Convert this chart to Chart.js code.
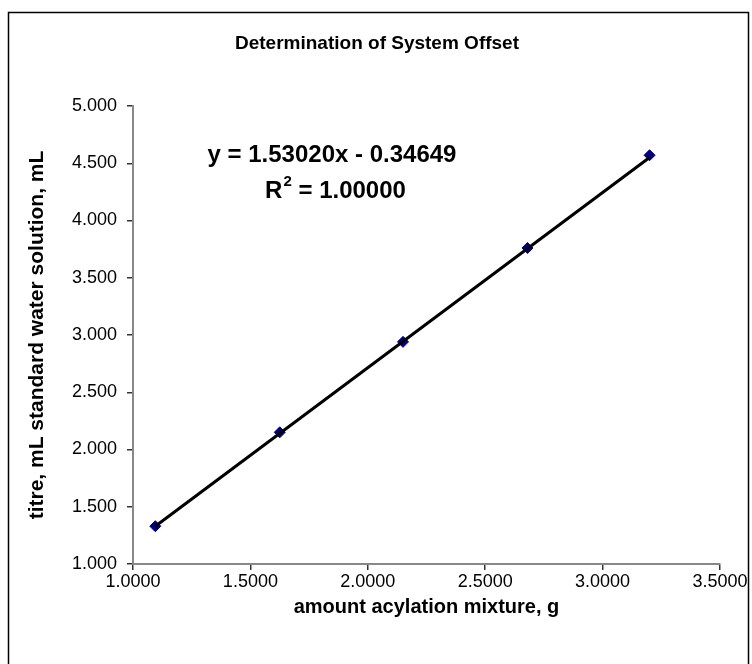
<!DOCTYPE html>
<html>
<head>
<meta charset="utf-8">
<script src="https://cdn.jsdelivr.net/npm/chart.js@4/dist/chart.umd.min.js"></script>
<style>
  html, body { margin: 0; padding: 0; background: #fff; }
  canvas { display: block; }
</style>
</head>
<body>
<canvas id="myChart" width="752" height="664"></canvas>
<script>
// values
const amountG = [1.095, 1.625, 2.15, 2.68, 3.20];
const titreML = [1.33, 2.15, 2.94, 3.76, 4.57];
const xTicks = [1.0, 1.5, 2.0, 2.5, 3.0, 3.5];
const yTicks = [1.0, 1.5, 2.0, 2.5, 3.0, 3.5, 4.0, 4.5, 5.0];
const slope = 1.53020;
const intercept = -0.34649;
const rSquared = '1.00000';

const chartTitle = 'Determination of System Offset';
const xTitle = 'amount acylation mixture, g';
const yTitle = 'titre, mL standard water solution, mL';
const equationText = 'y = 1.53020x - 0.34649';

const family = '"Liberation Sans", Arial, sans-serif';

const fit = x => slope * x + intercept;
const xFirst = Math.min(...amountG);
const xLast = Math.max(...amountG);

// border, title and trendline label
const chartDecor = {
  id: 'chartDecor',
  beforeDraw(chart) {
    const c = chart.ctx;
    c.save();
    c.fillStyle = '#fff';
    c.fillRect(0, 0, chart.width, chart.height);
    c.strokeStyle = '#000';
    c.lineWidth = 1.5;
    c.strokeRect(8.5, 12.5, 740, 680);
    c.restore();
  },
  afterDraw(chart) {
    const c = chart.ctx;
    c.save();
    c.fillStyle = '#000';
    c.textAlign = 'center';
    c.textBaseline = 'middle';
    c.font = 'bold 19px ' + family;
    c.fillText(chartTitle, 377, 44);

    c.font = 'bold 24px ' + family;
    c.fillText(equationText, 332, 155);

    const big = 'bold 24px ' + family;
    const small = 'bold 15px ' + family;
    const rest = ' = ' + rSquared;
    c.font = big;
    const wR = c.measureText('R').width;
    const wRest = c.measureText(rest).width;
    c.font = small;
    const w2 = c.measureText('2').width;
    let x = 335 - (wR + w2 + wRest) / 2;
    c.textAlign = 'left';
    c.font = big;
    c.fillText('R', x, 191);
    x += wR;
    c.font = small;
    c.fillText('2', x + 1, 182);
    x += w2 + 1;
    c.font = big;
    c.fillText(rest, x, 191);
    c.restore();
  }
};

const ctx = document.getElementById('myChart').getContext('2d');
const myChart = new Chart(ctx, {
  type: 'scatter',
  data: {
    datasets: [
      {
        label: 'trend',
        type: 'line',
        data: [{ x: xFirst, y: fit(xFirst) }, { x: xLast, y: fit(xLast) }],
        borderColor: '#000',
        borderWidth: 3,
        pointRadius: 0,
        fill: false
      },
      {
        label: 'titre',
        data: amountG.map((x, i) => ({ x: x, y: titreML[i] })),
        pointStyle: 'rectRot',
        pointRadius: 5.5,
        backgroundColor: '#000080',
        borderColor: '#000080',
        borderWidth: 1
      }
    ]
  },
  options: {
    responsive: false,
    animation: false,
    devicePixelRatio: 1,
    layout: { padding: { left: 10, right: 32, top: 106, bottom: 0 } },
    plugins: {
      legend: { display: false },
      tooltip: { enabled: false }
    },
    scales: {
      x: {
        type: 'linear',
        min: 1,
        max: 3.5,
        afterBuildTicks: s => { s.ticks = xTicks.map(v => ({ value: v })); },
        afterFit: s => { s.height = 100; },
        grid: { drawOnChartArea: false, tickLength: 6, color: '#333', lineWidth: 1.5 },
        border: { color: '#888', width: 2 },
        ticks: {
          callback: v => Number(v).toFixed(4),
          font: { size: 18, family: family },
          color: '#000',
          padding: 1,
          maxRotation: 0,
          autoSkip: false
        },
        title: {
          display: true,
          text: xTitle,
          font: { size: 20, weight: 'bold', family: family },
          color: '#000',
          padding: { top: 0, bottom: 45 }
        }
      },
      y: {
        type: 'linear',
        min: 1,
        max: 5,
        afterBuildTicks: s => { s.ticks = yTicks.map(v => ({ value: v })); },
        afterFit: s => { s.width = 123; },
        grid: { drawOnChartArea: false, tickLength: 6, color: '#333', lineWidth: 1.5 },
        border: { color: '#888', width: 2 },
        ticks: {
          callback: v => Number(v).toFixed(3),
          font: { size: 18, family: family },
          color: '#000',
          padding: 10,
          autoSkip: false
        },
        title: {
          display: true,
          text: yTitle,
          font: { size: 21, weight: 'bold', family: family },
          color: '#000',
          padding: { top: 15, bottom: 0 }
        }
      }
    }
  },
  plugins: [chartDecor]
});
</script>
</body>
</html>
